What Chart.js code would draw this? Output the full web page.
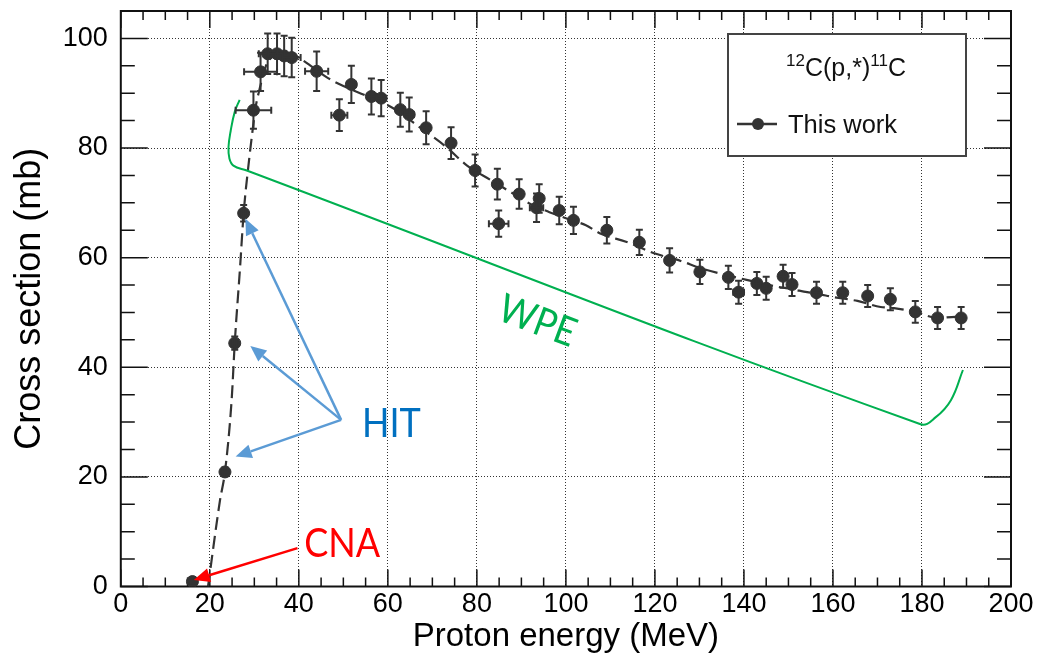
<!DOCTYPE html>
<html>
<head>
<meta charset="utf-8">
<script src="https://cdn.jsdelivr.net/npm/chart.js@4/dist/chart.umd.min.js"></script>
<style>
  html, body { margin: 0; padding: 0; background: #ffffff; }
  #wrap { width: 1041px; height: 657px; }
</style>
</head>
<body>
<div id="wrap"><canvas id="c" width="1041" height="657"></canvas></div>
<script>
// 12C(p,*)11C production cross section, measured points
const energy    = [16.1, 23.4, 25.6, 27.6, 29.8, 31.4, 33.0, 35.1, 36.7, 38.4, 44.0, 49.1, 51.8, 56.3, 58.5, 62.8, 64.8, 68.6, 74.2, 79.6, 84.6, 84.9, 89.5, 94.0, 93.4, 98.5, 101.7, 109.2, 116.5, 123.3, 130.1, 136.5, 138.8, 142.9, 145.0, 148.8, 150.8, 156.3, 162.2, 167.8, 172.9, 178.5, 183.5, 188.8];
const xsec      = [0.9, 20.9, 44.4, 68.1, 86.9, 93.9, 97.2, 97.2, 96.8, 96.5, 94.0, 86.0, 91.6, 89.4, 89.1, 87.0, 86.1, 83.7, 80.9, 75.9, 73.4, 66.2, 71.6, 70.8, 69.1, 68.6, 66.8, 65.0, 62.8, 59.5, 57.4, 56.4, 53.7, 55.3, 54.4, 56.6, 55.1, 53.6, 53.6, 53.0, 52.4, 50.1, 49.0, 49.0];
const energyErr = [0.5, 0.5, 0.5, 0.5, 4.0, 3.7, 2.0, 2.0, 2.0, 2.0, 2.6, 1.8, 1.0, 1.0, 1.0, 1.0, 1.0, 0.8, 0.8, 0.8, 0.8, 2.2, 0.8, 0.8, 1.5, 0.8, 0.8, 0.8, 0.8, 0.8, 0.8, 0.8, 1.2, 0.8, 0.8, 0.8, 0.8, 1.0, 0.8, 0.8, 0.8, 0.8, 0.8, 0.8];
const xsecErr   = [0.3, 0.8, 1.2, 1.5, 3.4, 3.5, 3.7, 3.7, 3.7, 3.6, 3.6, 2.9, 3.4, 3.3, 3.3, 3.1, 3.1, 3.0, 2.9, 2.9, 2.8, 2.4, 2.7, 2.6, 2.6, 2.5, 2.5, 2.4, 2.3, 2.2, 2.2, 2.1, 2.1, 2.1, 2.1, 2.1, 2.1, 2.0, 2.0, 2.0, 2.0, 2.0, 2.0, 2.0];

// smooth excitation-function curve through the data
const fitEnergy = [19.6, 22.3, 23.4, 24.9, 25.6, 26.8, 27.6, 28.9, 29.5, 30.3, 31.1, 32.0, 32.8, 34.0, 36.0, 38.0, 40.3, 43.0, 46.3, 50.0, 55.3, 61.3, 67.1, 73.1, 77.8, 83.0, 87.5, 91.8, 96.3, 100.0, 104.5, 108.0, 113.5, 120.2, 125.8, 130.2, 134.6, 139.3, 143.5, 147.5, 151.0, 154.2, 156.5, 160.2, 165.5, 170.7, 173.7, 178.5, 183.5, 187.5, 189.5];
const fitXsec   = [0.0, 15.8, 20.9, 34.0, 44.4, 58.3, 68.1, 78.4, 82.5, 87.5, 90.5, 93.3, 95.4, 96.6, 97.3, 97.2, 96.3, 94.8, 92.9, 91.3, 89.5, 87.2, 83.8, 80.2, 76.8, 74.2, 72.0, 69.9, 68.3, 67.2, 65.9, 64.3, 62.9, 60.7, 59.4, 58.1, 57.1, 56.2, 55.4, 54.7, 54.2, 53.7, 53.4, 52.8, 52.1, 51.0, 50.8, 50.1, 49.0, 49.2, 49.1];

// WPE energy range bracket
const wpeEnergy = [26.7, 25.6, 24.7, 24.2, 24.4, 25.3, 28.3, 179.7, 183.1, 186.5, 189.2];
const wpeXsec   = [88.8, 86.6, 83.2, 80.2, 78.1, 76.8, 75.9, 29.6, 30.9, 34.0, 39.5];

// facility labels and their arrows (start -> tip, in axis units)
const hitLabel  = [54.2, 27.3];
const hitFrom   = [49.5, 30.4];
const hitTips   = [[28.0, 67.1], [29.1, 43.9], [25.8, 23.7]];
const cnaLabel  = [41.2, 5.4];
const cnaFrom   = [39.7, 7.0];
const cnaTip    = [16.4, 1.2];
const wpeLabel  = [93.6, 48.4];

const xTicks = [0, 20, 40, 60, 80, 100, 120, 140, 160, 180, 200];
const yTicks = [0, 20, 40, 60, 80, 100];

const INK = '#333333';
const toXY = (xs, ys) => xs.map((v, i) => ({ x: v, y: ys[i] }));

// frame with inward major/minor tick marks on all four sides
const framePlugin = {
  id: 'frame',
  beforeDatasetsDraw(chart) {
    const { ctx, chartArea: a, scales: { x, y } } = chart;
    ctx.save();
    ctx.strokeStyle = '#111';
    ctx.lineWidth = 1.5;
    for (let v = 0; v <= 200; v += 5) {
      const px = x.getPixelForValue(v);
      const len = v % 20 === 0 ? 17 : 9;
      ctx.beginPath();
      ctx.moveTo(px, a.bottom); ctx.lineTo(px, a.bottom - len);
      ctx.moveTo(px, a.top); ctx.lineTo(px, a.top + len);
      ctx.stroke();
    }
    for (let v = 0; v <= 105; v += 5) {
      const py = y.getPixelForValue(v);
      const len = v % 20 === 0 ? 27 : 14;
      ctx.beginPath();
      ctx.moveTo(a.left, py); ctx.lineTo(a.left + len, py);
      ctx.moveTo(a.right, py); ctx.lineTo(a.right - len, py);
      ctx.stroke();
    }
    ctx.lineWidth = 2;
    ctx.strokeRect(a.left, a.top, a.right - a.left, a.bottom - a.top);
    ctx.restore();
  }
};

// error bars with end caps for the measured points
const errorBarPlugin = {
  id: 'errorBars',
  afterDatasetsDraw(chart) {
    const { ctx, scales: { x, y } } = chart;
    ctx.save();
    ctx.strokeStyle = INK;
    ctx.lineWidth = 2;
    const cap = 3.5;
    energy.forEach((e, i) => {
      const px = x.getPixelForValue(e), py = y.getPixelForValue(xsec[i]);
      const y1 = y.getPixelForValue(xsec[i] - xsecErr[i]);
      const y2 = y.getPixelForValue(xsec[i] + xsecErr[i]);
      const x1 = x.getPixelForValue(e - energyErr[i]);
      const x2 = x.getPixelForValue(e + energyErr[i]);
      ctx.beginPath();
      ctx.moveTo(px, y1); ctx.lineTo(px, y2);
      ctx.moveTo(px - cap, y1); ctx.lineTo(px + cap, y1);
      ctx.moveTo(px - cap, y2); ctx.lineTo(px + cap, y2);
      ctx.moveTo(x1, py); ctx.lineTo(x2, py);
      ctx.moveTo(x1, py - cap); ctx.lineTo(x1, py + cap);
      ctx.moveTo(x2, py - cap); ctx.lineTo(x2, py + cap);
      ctx.stroke();
    });
    ctx.restore();
  }
};

function arrow(ctx, x0, y0, x1, y1, color) {
  const ang = Math.atan2(y1 - y0, x1 - x0);
  const head = 16, half = 7;
  const bx = x1 - head * Math.cos(ang), by = y1 - head * Math.sin(ang);
  ctx.strokeStyle = color; ctx.fillStyle = color; ctx.lineWidth = 2.5;
  ctx.beginPath(); ctx.moveTo(x0, y0); ctx.lineTo(bx, by); ctx.stroke();
  ctx.beginPath();
  ctx.moveTo(x1, y1);
  ctx.lineTo(bx + half * Math.sin(ang), by - half * Math.cos(ang));
  ctx.lineTo(bx - half * Math.sin(ang), by + half * Math.cos(ang));
  ctx.closePath(); ctx.fill();
}

// facility labels, arrows and the legend box
const notesPlugin = {
  id: 'notes',
  afterDraw(chart) {
    const { ctx, scales: { x, y } } = chart;
    const P = p => [x.getPixelForValue(p[0]), y.getPixelForValue(p[1])];
    ctx.save();
    const [hx, hy] = P(hitFrom);
    hitTips.forEach(t => { const [tx, ty] = P(t); arrow(ctx, hx, hy, tx, ty, '#5b9bd5'); });
    const [cx, cy] = P(cnaFrom), [ctx2, cty] = P(cnaTip);
    arrow(ctx, cx, cy, ctx2, cty, '#ff0000');

    ctx.textBaseline = 'alphabetic';
    ctx.textAlign = 'left';
    let [lx, ly] = P(hitLabel);
    ctx.save(); ctx.translate(lx, ly); ctx.scale(0.9, 1);
    ctx.font = '40px Lato'; ctx.fillStyle = '#0070c0'; ctx.fillText('HIT', 0, 0);
    ctx.restore();
    [lx, ly] = P(cnaLabel);
    ctx.save(); ctx.translate(lx, ly); ctx.scale(0.9, 1);
    ctx.font = '40px Lato'; ctx.fillStyle = '#ff0000'; ctx.fillText('CNA', 0, 0);
    ctx.restore();
    [lx, ly] = P(wpeLabel);
    ctx.save(); ctx.translate(lx, ly); ctx.rotate(20.5 * Math.PI / 180); ctx.scale(0.9, 1);
    ctx.font = '40px Lato'; ctx.fillStyle = '#00b050'; ctx.textAlign = 'center'; ctx.textBaseline = 'middle';
    ctx.fillText('WPE', 0, 0);
    ctx.restore();

    // legend
    const bx = 728, by = 34, bw = 238, bh = 122;
    ctx.fillStyle = '#ffffff';
    ctx.fillRect(bx, by, bw, bh);
    ctx.strokeStyle = '#444'; ctx.lineWidth = 2;
    ctx.strokeRect(bx, by, bw, bh);
    ctx.fillStyle = '#111';
    const big = '25px "Liberation Sans"', sup = '17px "Liberation Sans"';
    const parts = [['12', sup, -10], ['C(p,*)', big, 0], ['11', sup, -10], ['C', big, 0]];
    let w = 0;
    parts.forEach(p => { ctx.font = p[1]; w += ctx.measureText(p[0]).width; });
    let tx = 846 - w / 2;
    parts.forEach(p => { ctx.font = p[1]; ctx.fillText(p[0], tx, 76 + p[2]); tx += ctx.measureText(p[0]).width; });
    ctx.strokeStyle = INK; ctx.lineWidth = 2.5;
    ctx.beginPath(); ctx.moveTo(737, 124); ctx.lineTo(777, 124); ctx.stroke();
    ctx.fillStyle = INK;
    ctx.beginPath(); ctx.arc(758, 124, 6, 0, Math.PI * 2); ctx.fill();
    ctx.fillStyle = '#111';
    ctx.font = '25.5px "Liberation Sans"';
    ctx.fillText('This work', 788, 133);
    ctx.restore();
  }
};

const tickFont = { family: '"Liberation Sans"', size: 27 };

new Chart(document.getElementById('c'), {
  type: 'scatter',
  data: {
    datasets: [
      {
        label: 'fit',
        data: toXY(fitEnergy, fitXsec),
        showLine: true,
        borderColor: INK,
        borderWidth: 2.2,
        borderDash: [13, 6],
        pointRadius: 0,
        cubicInterpolationMode: 'monotone',
        order: 3
      },
      {
        label: 'WPE',
        data: toXY(wpeEnergy, wpeXsec),
        showLine: true,
        borderColor: '#00b050',
        borderWidth: 2,
        pointRadius: 0,
        tension: 0.4,
        order: 2
      },
      {
        label: 'This work',
        data: toXY(energy, xsec),
        showLine: false,
        pointRadius: 6,
        pointBackgroundColor: INK,
        pointBorderColor: INK,
        pointBorderWidth: 1,
        order: 1
      }
    ]
  },
  options: {
    responsive: false,
    animation: false,
    devicePixelRatio: 1,
    layout: { padding: { top: 11, right: 30, left: 0, bottom: 0 } },
    plugins: { legend: { display: false }, tooltip: { enabled: false } },
    scales: {
      x: {
        type: 'linear', min: 0, max: 200,
        afterBuildTicks: s => { s.ticks = xTicks.map(v => ({ value: v })); },
        afterFit: s => { s.height = 70.5; s.paddingLeft = 0; s.paddingRight = 0; },
        grid: { color: '#333', lineWidth: 1, drawTicks: false },
        border: { display: false, dash: [1, 2] },
        ticks: { padding: 2, font: tickFont, color: '#000', maxRotation: 0, autoSkip: false },
        title: { display: true, text: 'Proton energy (MeV)', font: { family: '"Liberation Sans"', size: 33 }, color: '#000', padding: { top: 0, bottom: 0 } }
      },
      y: {
        type: 'linear', min: 0, max: 105,
        afterBuildTicks: s => { s.ticks = yTicks.map(v => ({ value: v })); },
        afterFit: s => { s.width = 120.8; s.paddingTop = 0; s.paddingBottom = 0; },
        grid: { color: '#333', lineWidth: 1, drawTicks: false },
        border: { display: false, dash: [1, 2] },
        ticks: { padding: 13, font: tickFont, color: '#000', autoSkip: false },
        title: { display: true, text: 'Cross section (mb)', font: { family: '"Liberation Sans"', size: 36 }, color: '#000', padding: { top: 8, bottom: 0 } }
      }
    }
  },
  plugins: [framePlugin, errorBarPlugin, notesPlugin]
});
</script>
</body>
</html>
